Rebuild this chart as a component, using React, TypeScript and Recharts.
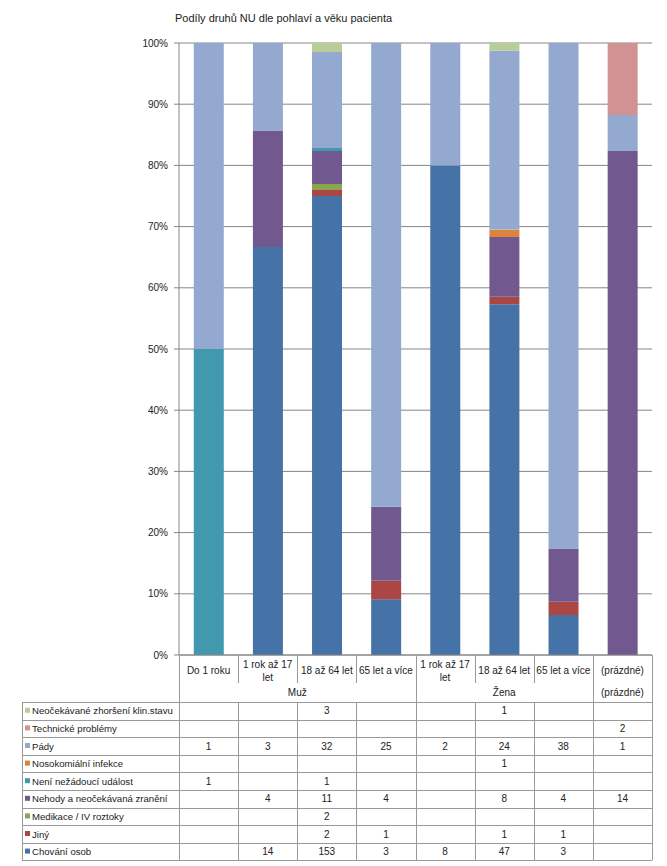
import { BarChart, Bar, XAxis, YAxis, CartesianGrid } from "recharts";

const title = "Podíly druhů NU dle pohlaví a věku pacienta";

const categories = ["Do 1 roku", "1 rok až 17 let", "18 až 64 let", "65 let a více", "1 rok až 17 let", "18 až 64 let", "65 let a více", "(prázdné)"];
const groupNames = ["Muž", "Žena", "(prázdné)"];
const groupSizes = [4, 3, 1];

// stack order, bottom -> top
const seriesNames = [
  "Chování osob",
  "Jiný",
  "Medikace / IV roztoky",
  "Nehody a neočekávaná zranění",
  "Není nežádoucí událost",
  "Nosokomiální infekce",
  "Pády",
  "Technické problémy",
  "Neočekávané zhoršení klin.stavu",
];
const seriesColors = ["#4572A7", "#AA4643", "#89A54E", "#71588F", "#4198AF", "#DB843D", "#93A9CF", "#D19392", "#B9CD96"];

const chovaniOsob = [null, 14, 153, 3, 8, 47, 3, null];
const jiny = [null, null, 2, 1, null, 1, 1, null];
const medikace = [null, null, 2, null, null, null, null, null];
const nehody = [null, 4, 11, 4, null, 8, 4, 14];
const neniNU = [1, null, 1, null, null, null, null, null];
const nosokomialni = [null, null, null, null, null, 1, null, null];
const pady = [1, 3, 32, 25, 2, 24, 38, 1];
const technicke = [null, null, null, null, null, null, null, 2];
const neocekavane = [null, null, 3, null, null, 1, null, null];

const seriesValues = [chovaniOsob, jiny, medikace, nehody, neniNU, nosokomialni, pady, technicke, neocekavane];

const yTicks = [0, 0.1, 0.2, 0.3, 0.4, 0.5, 0.6, 0.7, 0.8, 0.9, 1];

const data = categories.map((c, i) => {
  const row: Record<string, number | string> = { idx: i, name: c };
  seriesValues.forEach((vals, s) => { row["s" + s] = vals[i] ?? 0; });
  return row;
});

const W = 667, H = 866;
const plotTop = 43, plotBottom = 655, plotLeft = 179, plotRight = 652;
const colW = (plotRight - plotLeft) / categories.length;
const tableTop = 702, rowH = 17.6, tableLeft = 22;
const font = "'Liberation Sans', Arial, sans-serif";
const txt = "#222";
const gridColor = "#868686";
const lineColor = "#9a9a9a";

function wrap(label: string, maxChars = 13) {
  const lines: string[] = [];
  let cur = "";
  label.split(" ").forEach((w) => {
    const next = cur ? cur + " " + w : w;
    if (next.length > maxChars && cur) { lines.push(cur); cur = w; } else cur = next;
  });
  if (cur) lines.push(cur);
  return lines;
}

function CategoryTick({ x, y, payload }: any) {
  const lines = wrap(categories[payload.value]);
  const start = lines.length > 1 ? y + 13 : y + 19;
  return (
    <g>
      {lines.map((l, i) => (
        <text key={i} x={x} y={start + i * 13} textAnchor="middle" fontSize={10} fontFamily={font} fill={txt}>{l}</text>
      ))}
    </g>
  );
}

// row order in the table: top -> bottom (reverse of stack)
const tableRows = seriesNames.map((_, i) => seriesNames.length - 1 - i);

export default function App() {
  const groupStarts = groupSizes.map((_, g) => groupSizes.slice(0, g).reduce((a, b) => a + b, 0));
  const boundaries = new Set([...groupStarts, categories.length]);
  const tableBottom = tableTop + rowH * tableRows.length;

  return (
    <div style={{ position: "absolute", left: 0, top: 0, width: W, height: H, background: "#fff" }}>
      <BarChart width={W} height={H} data={data} stackOffset="expand" barCategoryGap="25%"
        margin={{ top: plotTop, right: W - plotRight, left: 0, bottom: 0 }}>
        <CartesianGrid vertical={false} stroke={gridColor} strokeWidth={1} />
        <XAxis dataKey="idx" type="category" height={H - plotBottom} tickLine={false} tickSize={0} tickMargin={0}
          axisLine={{ stroke: gridColor }} tick={<CategoryTick />} interval={0} />
        <YAxis type="number" domain={[0, 1]} ticks={yTicks} width={plotLeft} tickSize={5} tickMargin={6}
          axisLine={{ stroke: gridColor }} tickLine={{ stroke: gridColor }}
          tickFormatter={(v: number) => `${Math.round(v * 100)}%`}
          tick={{ fontSize: 10, fontFamily: font, fill: txt }} />
        {seriesNames.map((n, s) => (
          <Bar key={n} dataKey={"s" + s} name={n} stackId="a" fill={seriesColors[s]} isAnimationActive={false} />
        ))}
      </BarChart>

      <svg width={W} height={H} style={{ position: "absolute", left: 0, top: 0, pointerEvents: "none" }}>
        <text x={175} y={22} fontSize={11} fontFamily={font} fill={txt}>{title}</text>

        {/* header separators */}
        {categories.map((_, k) => k).concat([categories.length]).map((k) => {
          const x = Math.round(plotLeft + k * colW) + 0.5;
          return boundaries.has(k)
            ? <line key={"hv" + k} x1={x} x2={x} y1={plotBottom} y2={tableBottom} stroke={lineColor} />
            : <g key={"hv" + k}>
                <line x1={x} x2={x} y1={plotBottom} y2={683} stroke={lineColor} />
                <line x1={x} x2={x} y1={tableTop} y2={tableBottom} stroke={lineColor} />
              </g>;
        })}
        <line x1={tableLeft + 0.5} x2={tableLeft + 0.5} y1={tableTop} y2={tableBottom} stroke={lineColor} />

        {/* group labels */}
        {groupNames.map((g, gi) => {
          const cx = plotLeft + (groupStarts[gi] + groupSizes[gi] / 2) * colW;
          return <text key={g} x={cx} y={696} textAnchor="middle" fontSize={10} fontFamily={font} fill={txt}>{g}</text>;
        })}

        {/* table rows */}
        {tableRows.map((s, r) => {
          const y0 = tableTop + r * rowH;
          const cy = y0 + rowH / 2;
          return (
            <g key={"r" + r}>
              <line x1={tableLeft} x2={plotRight} y1={Math.round(y0) + 0.5} y2={Math.round(y0) + 0.5} stroke={lineColor} />
              <rect x={25} y={cy - 3} width={5} height={5} fill={seriesColors[s]} />
              <text x={32} y={cy + 3.5} fontSize={9.6} fontFamily={font} fill={txt}>{seriesNames[s]}</text>
              {seriesValues[s].map((v, i) => v == null ? null : (
                <text key={i} x={plotLeft + (i + 0.5) * colW} y={cy + 3.5} textAnchor="middle" fontSize={10} fontFamily={font} fill={txt}>{v}</text>
              ))}
            </g>
          );
        })}
        <line x1={tableLeft} x2={plotRight} y1={Math.round(tableBottom) + 0.5} y2={Math.round(tableBottom) + 0.5} stroke={lineColor} />
      </svg>
    </div>
  );
}
